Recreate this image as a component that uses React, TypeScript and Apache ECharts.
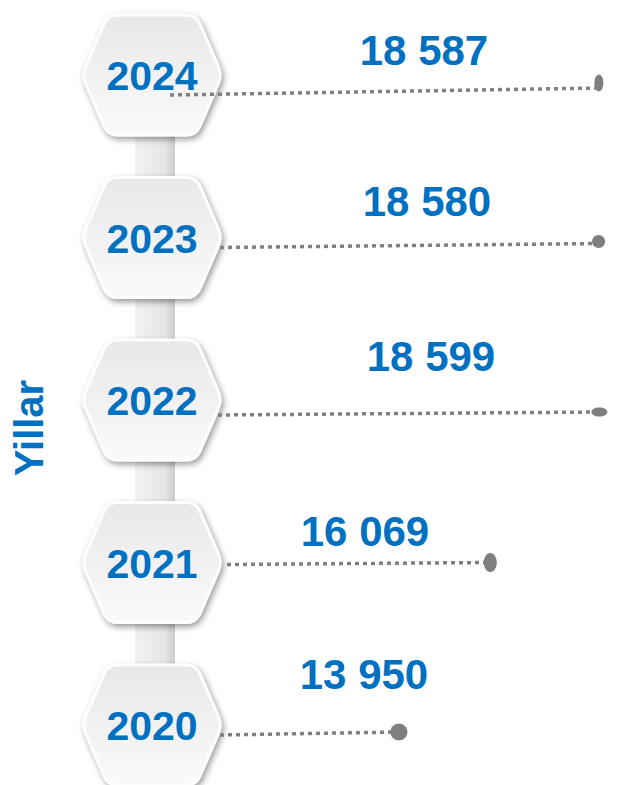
import React, { useEffect, useRef } from 'react';
import * as echarts from 'echarts';

// ---- data ----
const years = [2024, 2023, 2022, 2021, 2020];
const values = [18587, 18580, 18599, 16069, 13950];
const valueLabels = ['18 587', '18 580', '18 599', '16 069', '13 950'];
const axisTitle = 'Yillar';

// ---- per-row layout tweaks (pixels, not data) ----
const lineStartX = [170, 220, 218, 227, 220];
const lineDyLeft = [20, 10, 15, 2, 10];
const lineDyRight = [13, 6, 12, 0, 7];
const dotDy = [8, 4, 12, 0, 7];
const dotSize = [[9, 17], [13, 13], [16, 9], [13, 19], [17, 17]];
const labelX = [424, 427, 431, 365, 364];
const labelDy = [-25, -36, -44, -31, -51];

const BLUE = '#0070c0';
const FONT = '"Liberation Sans", Arial, sans-serif';
const HEX_CX = 152;

const Hexagon = echarts.graphic.extendShape({
  shape: { cx: 0, cy: 0, hw: 70, tw: 44, hh: 60, r: 9 },
  buildPath(ctx: any, s: any) {
    const v = [
      [s.cx - s.tw, s.cy - s.hh],
      [s.cx + s.tw, s.cy - s.hh],
      [s.cx + s.hw, s.cy],
      [s.cx + s.tw, s.cy + s.hh],
      [s.cx - s.tw, s.cy + s.hh],
      [s.cx - s.hw, s.cy],
    ];
    const n = v.length;
    const pts = v.map((p, i) => {
      const prev = v[(i + n - 1) % n];
      const next = v[(i + 1) % n];
      const d1 = Math.hypot(prev[0] - p[0], prev[1] - p[1]);
      const d2 = Math.hypot(next[0] - p[0], next[1] - p[1]);
      return {
        a: [p[0] + ((prev[0] - p[0]) * s.r) / d1, p[1] + ((prev[1] - p[1]) * s.r) / d1],
        b: [p[0] + ((next[0] - p[0]) * s.r) / d2, p[1] + ((next[1] - p[1]) * s.r) / d2],
      };
    });
    ctx.moveTo(pts[0].a[0], pts[0].a[1]);
    for (let i = 0; i < n; i++) {
      if (i > 0) ctx.lineTo(pts[i].a[0], pts[i].a[1]);
      ctx.quadraticCurveTo(v[i][0], v[i][1], pts[i].b[0], pts[i].b[1]);
    }
    ctx.closePath();
  },
});
echarts.graphic.registerShape('hexagon', Hexagon);

export default function App() {
  const ref = useRef<HTMLDivElement>(null);

  useEffect(() => {
    document.body.style.margin = '0';
    if (!ref.current) return;
    const chart = echarts.init(ref.current, null, { renderer: 'svg' });

    const connectorData = years.slice(0, -1).map((y) => [0, y]);
    const hexData = years.map((y) => [0, y]);
    const lineData = values.map((v, i) => [v, years[i]]);

    const option: any = {
      animation: false,
      backgroundColor: '#ffffff',
      grid: { left: 0, right: 0, top: 75, bottom: 60 },
      xAxis: { type: 'value', min: 4700, max: 19170, show: false },
      yAxis: { type: 'value', min: 2020, max: 2024, show: false },
      graphic: [
        {
          type: 'text',
          x: 29,
          y: 428,
          rotation: Math.PI / 2,
          style: {
            text: axisTitle,
            font: `bold 40px ${FONT}`,
            fill: BLUE,
            align: 'center',
            verticalAlign: 'middle',
          },
        },
      ],
      series: [
        {
          type: 'custom',
          name: 'connector',
          z: 1,
          data: connectorData,
          renderItem: (params: any, api: any) => {
            const y0 = api.coord([0, api.value(1)])[1];
            const y1 = api.coord([0, api.value(1) - 1])[1];
            return {
              type: 'rect',
              shape: { x: 135, y: y0, width: 40, height: y1 - y0 },
              style: {
                fill: new echarts.graphic.LinearGradient(0, 0, 1, 0, [
                  { offset: 0, color: '#f2f2f2' },
                  { offset: 0.75, color: '#e6e6e6' },
                  { offset: 1, color: '#cdcdcd' },
                ]),
              },
            };
          },
        },
        {
          type: 'custom',
          name: 'years',
          z: 2,
          data: hexData,
          renderItem: (params: any, api: any) => {
            const cy = api.coord([0, api.value(1)])[1];
            return {
              type: 'group',
              children: [
                {
                  type: 'hexagon',
                  shape: { cx: HEX_CX, cy, hw: 70, tw: 44, hh: 60, r: 10 },
                  style: {
                    fill: new echarts.graphic.LinearGradient(0, 0, 0, 1, [
                      { offset: 0, color: '#e8e8e8' },
                      { offset: 1, color: '#fafafa' },
                    ]),
                    stroke: '#fdfdfd',
                    lineWidth: 3,
                    shadowBlur: 6,
                    shadowColor: 'rgba(0,0,0,0.4)',
                    shadowOffsetX: 2,
                    shadowOffsetY: 3,
                  },
                },
                {
                  type: 'text',
                  style: {
                    text: String(api.value(1)),
                    x: HEX_CX,
                    y: cy + 1,
                    align: 'center',
                    verticalAlign: 'middle',
                    font: `bold 41px ${FONT}`,
                    fill: BLUE,
                  },
                },
              ],
            };
          },
        },
        {
          type: 'custom',
          name: 'values',
          z: 3,
          data: lineData,
          renderItem: (params: any, api: any) => {
            const i = params.dataIndex;
            const [ex, ey] = api.coord([api.value(0), api.value(1)]);
            return {
              type: 'group',
              children: [
                {
                  type: 'line',
                  shape: {
                    x1: lineStartX[i],
                    y1: ey + lineDyLeft[i],
                    x2: ex,
                    y2: ey + lineDyRight[i],
                  },
                  style: {
                    stroke: '#7f7f7f',
                    lineWidth: 3.5,
                    lineDash: [4, 4],
                  },
                },
                {
                  type: 'ellipse',
                  shape: {
                    cx: ex,
                    cy: ey + dotDy[i],
                    rx: dotSize[i][0] / 2,
                    ry: dotSize[i][1] / 2,
                  },
                  style: { fill: '#7f7f7f' },
                },
                {
                  type: 'text',
                  style: {
                    text: valueLabels[i],
                    x: labelX[i],
                    y: ey + labelDy[i],
                    align: 'center',
                    verticalAlign: 'middle',
                    font: `bold 42px ${FONT}`,
                    fill: BLUE,
                  },
                },
              ],
            };
          },
        },
      ],
    };

    chart.setOption(option);
    return () => chart.dispose();
  }, []);

  return <div ref={ref} style={{ width: 624, height: 785 }} />;
}
